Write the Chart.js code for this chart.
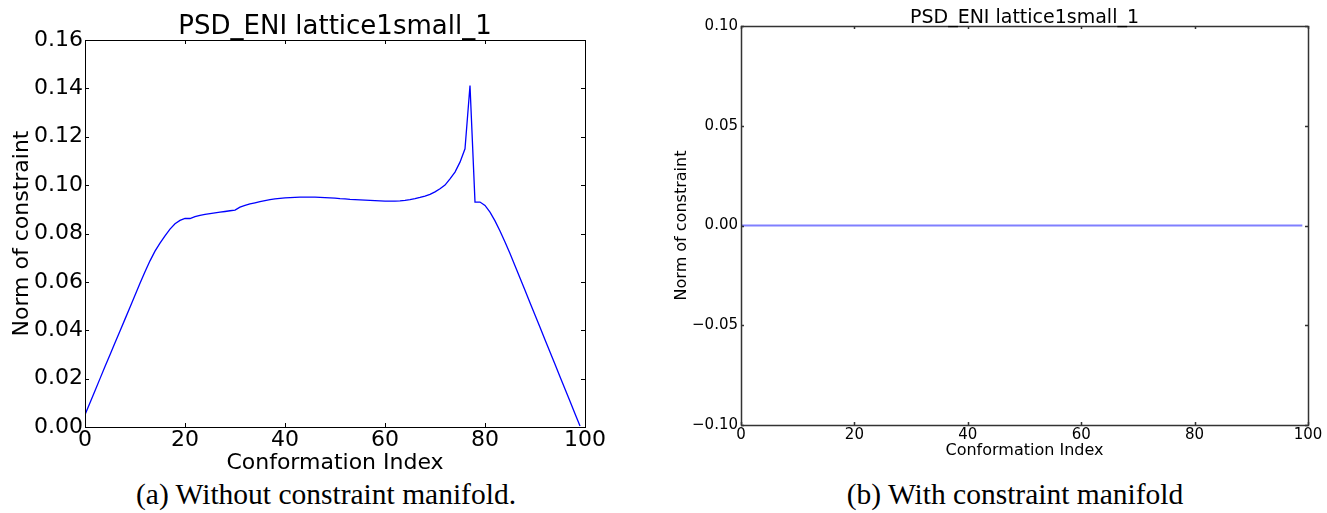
<!DOCTYPE html>
<html>
<head>
<meta charset="utf-8">
<script src="https://cdn.jsdelivr.net/npm/chart.js@4"></script>
<style>
  body { margin: 0; background: #fff; width: 1327px; height: 513px; overflow: hidden; position: relative; }
  canvas { position: absolute; top: 0; }
  #left { left: 0; }
  #right { left: 660px; }
  .cap { position: absolute; top: 480px; font-family: "Liberation Serif", serif; font-size: 29.5px; line-height: 29.5px; white-space: nowrap; transform: translateX(-50%); color: #000; }
</style>
</head>
<body>
<canvas id="left" width="610" height="476"></canvas>
<canvas id="right" width="667" height="476"></canvas>
<div class="cap" style="left:326px">(a) Without constraint manifold.</div>
<div class="cap" style="left:1015px">(b) With constraint manifold</div>
<script>
const plotTitle = "PSD_ENI lattice1small_1";
const xTitle = "Conformation Index";
const yTitle = "Norm of constraint";

// conformation index 0..99
const confIndex = Array.from({length: 100}, (_, i) => i);

// norm of constraint, without constraint manifold
const withoutManifold = [
  0.0051, 0.0100, 0.0150, 0.0200, 0.0250, 0.0299, 0.0348, 0.0397, 0.0446, 0.0495,
  0.0545, 0.0594, 0.0642, 0.0687, 0.0727, 0.0760, 0.0790, 0.0818, 0.0840, 0.0854,
  0.0862, 0.0862, 0.0870, 0.0875, 0.0879, 0.0882, 0.0885, 0.0888, 0.0891, 0.0894,
  0.0897, 0.0909, 0.0916, 0.0922, 0.0927, 0.0932, 0.0936, 0.0940, 0.0943, 0.0945,
  0.0947, 0.0948, 0.0949, 0.0950, 0.0950, 0.0950, 0.0950, 0.0949, 0.0948, 0.0947,
  0.0946, 0.0944, 0.0943, 0.0941, 0.0940, 0.0939, 0.0938, 0.0937, 0.0936, 0.0935,
  0.0934, 0.0934, 0.0934, 0.0935, 0.0937, 0.0940, 0.0944, 0.0949, 0.0955, 0.0962,
  0.0972, 0.0985, 0.1000, 0.1026, 0.1054, 0.1095, 0.1150, 0.1412, 0.0930, 0.0930,
  0.0916, 0.0888, 0.0852, 0.0810, 0.0765, 0.0717, 0.0667, 0.0616, 0.0565, 0.0514,
  0.0463, 0.0412, 0.0361, 0.0310, 0.0259, 0.0208, 0.0157, 0.0106, 0.0055, 0.0004
];

// with constraint manifold: all zero
const withManifold = [
  0, 0, 0, 0, 0, 0, 0, 0, 0, 0,
  0, 0, 0, 0, 0, 0, 0, 0, 0, 0,
  0, 0, 0, 0, 0, 0, 0, 0, 0, 0,
  0, 0, 0, 0, 0, 0, 0, 0, 0, 0,
  0, 0, 0, 0, 0, 0, 0, 0, 0, 0,
  0, 0, 0, 0, 0, 0, 0, 0, 0, 0,
  0, 0, 0, 0, 0, 0, 0, 0, 0, 0,
  0, 0, 0, 0, 0, 0, 0, 0, 0, 0,
  0, 0, 0, 0, 0, 0, 0, 0, 0, 0,
  0, 0, 0, 0, 0, 0, 0, 0, 0, 0
];

const xTicks = [0, 20, 40, 60, 80, 100];
const yTicksLeft = [0, 0.02, 0.04, 0.06, 0.08, 0.10, 0.12, 0.14, 0.16];
const yTicksRight = [-0.10, -0.05, 0, 0.05, 0.10];

Chart.defaults.font.family = "DejaVu Sans";
Chart.defaults.color = "#000";

function fmt(v) {
  if (Math.abs(v) < 1e-9) return "0.00";
  return (v < 0 ? "\u2212" : "") + Math.abs(v).toFixed(2);
}

// matplotlib-ish frame: box + inward ticks on all four sides, plus title
const framePlugin = {
  id: "frame",
  afterDatasetsDraw(chart, args, o) {
    const {ctx, chartArea: a, scales} = chart;
    ctx.save();
    ctx.strokeStyle = o.color;
    ctx.lineWidth = o.width;
    ctx.strokeRect(a.left + 0.5, a.top + 0.5, a.right - a.left, a.bottom - a.top);
    ctx.beginPath();
    scales.x.ticks.forEach(t => {
      const px = Math.round(scales.x.getPixelForValue(t.value)) + 0.5;
      ctx.moveTo(px, a.bottom); ctx.lineTo(px, a.bottom - o.tick);
      ctx.moveTo(px, a.top); ctx.lineTo(px, a.top + o.tick);
    });
    scales.y.ticks.forEach(t => {
      const py = Math.round(scales.y.getPixelForValue(t.value)) + 0.5;
      ctx.moveTo(a.left, py); ctx.lineTo(a.left + o.tick, py);
      ctx.moveTo(a.right, py); ctx.lineTo(a.right - o.tick, py);
    });
    ctx.stroke();
    ctx.fillStyle = "#000";
    ctx.font = o.titleSize + "px 'DejaVu Sans'";
    ctx.textAlign = "center";
    ctx.textBaseline = "alphabetic";
    ctx.fillText(plotTitle, (a.left + a.right) / 2, o.titleY);
    ctx.restore();
  }
};

function makeChart(id, data, cfg) {
  return new Chart(document.getElementById(id), {
    type: "line",
    data: {
      datasets: [{
        data: confIndex.map((x, i) => ({x: x, y: data[i]})),
        borderColor: cfg.lineColor,
        borderWidth: cfg.lineWidth,
        pointRadius: 0,
        tension: 0,
        fill: false
      }]
    },
    options: {
      responsive: false,
      animation: false,
      layout: {padding: cfg.padding},
      plugins: {
        legend: {display: false},
        tooltip: {enabled: false},
        frame: cfg.frame
      },
      scales: {
        x: {
          type: "linear", min: 0, max: 100,
          afterBuildTicks: s => { s.ticks = xTicks.map(v => ({value: v})); },
          ticks: {padding: cfg.xPad, font: {size: cfg.tickSize}, maxRotation: 0, autoSkip: false},
          grid: {display: false, drawTicks: false},
          border: {display: false},
          title: {display: true, text: xTitle, font: {size: cfg.labelSize}, padding: {top: 0, bottom: cfg.xTitlePad}},
          afterFit: s => { s.height = cfg.xHeight; }
        },
        y: {
          min: cfg.yTicks[0], max: cfg.yTicks[cfg.yTicks.length - 1],
          afterBuildTicks: s => { s.ticks = cfg.yTicks.map(v => ({value: v})); },
          ticks: {padding: cfg.yPad, font: {size: cfg.tickSize}, callback: v => fmt(v)},
          grid: {display: false, drawTicks: false},
          border: {display: false},
          title: {display: true, text: yTitle, font: {size: cfg.labelSize}, padding: {top: cfg.yTitlePad, bottom: 0}},
          afterFit: s => { s.width = cfg.yWidth; }
        }
      }
    },
    plugins: [framePlugin]
  });
}

makeChart("left", withoutManifold, {
  lineColor: "#0000ff", lineWidth: 1.3,
  padding: {top: 40, right: 25, left: 0, bottom: 0},
  tickSize: 22, labelSize: 22,
  xPad: 0, yPad: 2, xTitlePad: 0, yTitlePad: 9,
  xHeight: 49, yWidth: 85,
  yTicks: yTicksLeft,
  frame: {color: "#000", width: 1, tick: 4, titleSize: 26, titleY: 34}
});

makeChart("right", withManifold, {
  lineColor: "rgba(0,0,255,0.5)", lineWidth: 2,
  padding: {top: 26, right: 19, left: 0, bottom: 0},
  tickSize: 15, labelSize: 16,
  xPad: 1, yPad: 3, xTitlePad: 15.4, yTitlePad: 12.4,
  xHeight: 51, yWidth: 81,
  yTicks: yTicksRight,
  frame: {color: "#333", width: 1.5, tick: 3, titleSize: 19, titleY: 23}
});
</script>
</body>
</html>
